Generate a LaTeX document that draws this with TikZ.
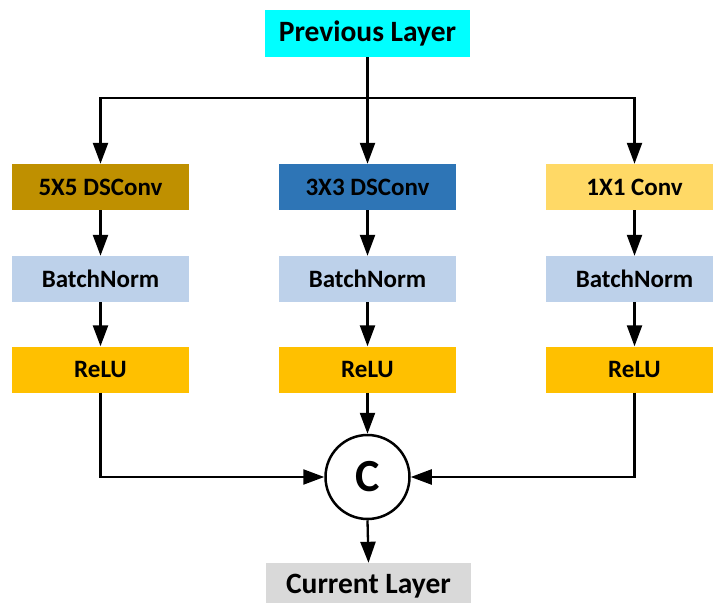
\documentclass[tikz,border=0pt]{standalone}
\usepackage{fontspec}
\setmainfont{Carlito}
\usetikzlibrary{arrows.meta}
\definecolor{prevc}{HTML}{00FFFF}
\definecolor{c5c}{HTML}{BF9000}
\definecolor{c3c}{HTML}{2E75B6}
\definecolor{c1c}{HTML}{FFD966}
\definecolor{bnc}{HTML}{BDD1EA}
\definecolor{reluc}{HTML}{FFC000}
\definecolor{curc}{HTML}{D9D9D9}
\begin{document}
\begin{tikzpicture}[x=1pt,y=-1pt,
  box/.style={minimum width=177pt,minimum height=46pt,inner sep=0pt,font=\fontsize{25}{30}\selectfont\bfseries},
  bigbox/.style={box,minimum width=205pt,minimum height=47pt,font=\fontsize{29.5}{34}\selectfont\bfseries},
  conn/.style={line width=2.3pt,-{Triangle[length=21pt,width=15pt]}}]
\useasboundingbox (0,0) rectangle (713,603);
\node[bigbox,fill=prevc] (prev) at (367.5,33.5) {Previous Layer};
\node[box,fill=c5c] (c5) at (100.5,187) {5X5 DSConv};
\node[box,fill=c3c] (c3) at (367.5,187) {3X3 DSConv};
\node[box,fill=c1c] (c1) at (634.5,187) {1X1 Conv};
\node[box,fill=bnc] (b5) at (100.5,279) {BatchNorm};
\node[box,fill=bnc] (b3) at (367.5,279) {BatchNorm};
\node[box,fill=bnc] (b1) at (634.5,279) {BatchNorm};
\node[box,fill=reluc] (r5) at (100.5,369.5) {ReLU};
\node[box,fill=reluc] (r3) at (367.5,369.5) {ReLU};
\node[box,fill=reluc] (r1) at (634.5,369.5) {ReLU};
\node[circle,draw,fill=white,line width=2.5pt,minimum size=84pt,inner sep=0pt,font=\fontsize{46}{50}\selectfont\bfseries] (cat) at (367.5,477) {C};
\node[bigbox,fill=curc] (cur) at (368.5,586.5) {Current Layer};
\coordinate (split) at (367.5,98);
\draw[conn] (prev.south) -- (c3.north);
\draw[conn] (split) -| (c5.north);
\draw[conn] (split) -| (c1.north);
\draw[conn] (c5) -- (b5);
\draw[conn] (c3) -- (b3);
\draw[conn] (c1) -- (b1);
\draw[conn] (b5) -- (r5);
\draw[conn] (b3) -- (r3);
\draw[conn] (b1) -- (r1);
\draw[conn] (r5.south) |- (cat.west);
\draw[conn] (r1.south) |- (cat.east);
\draw[conn] (r3.south) -- (cat.north);
\draw[conn] (cat.south) -- (cur.north);
\end{tikzpicture}
\end{document}
